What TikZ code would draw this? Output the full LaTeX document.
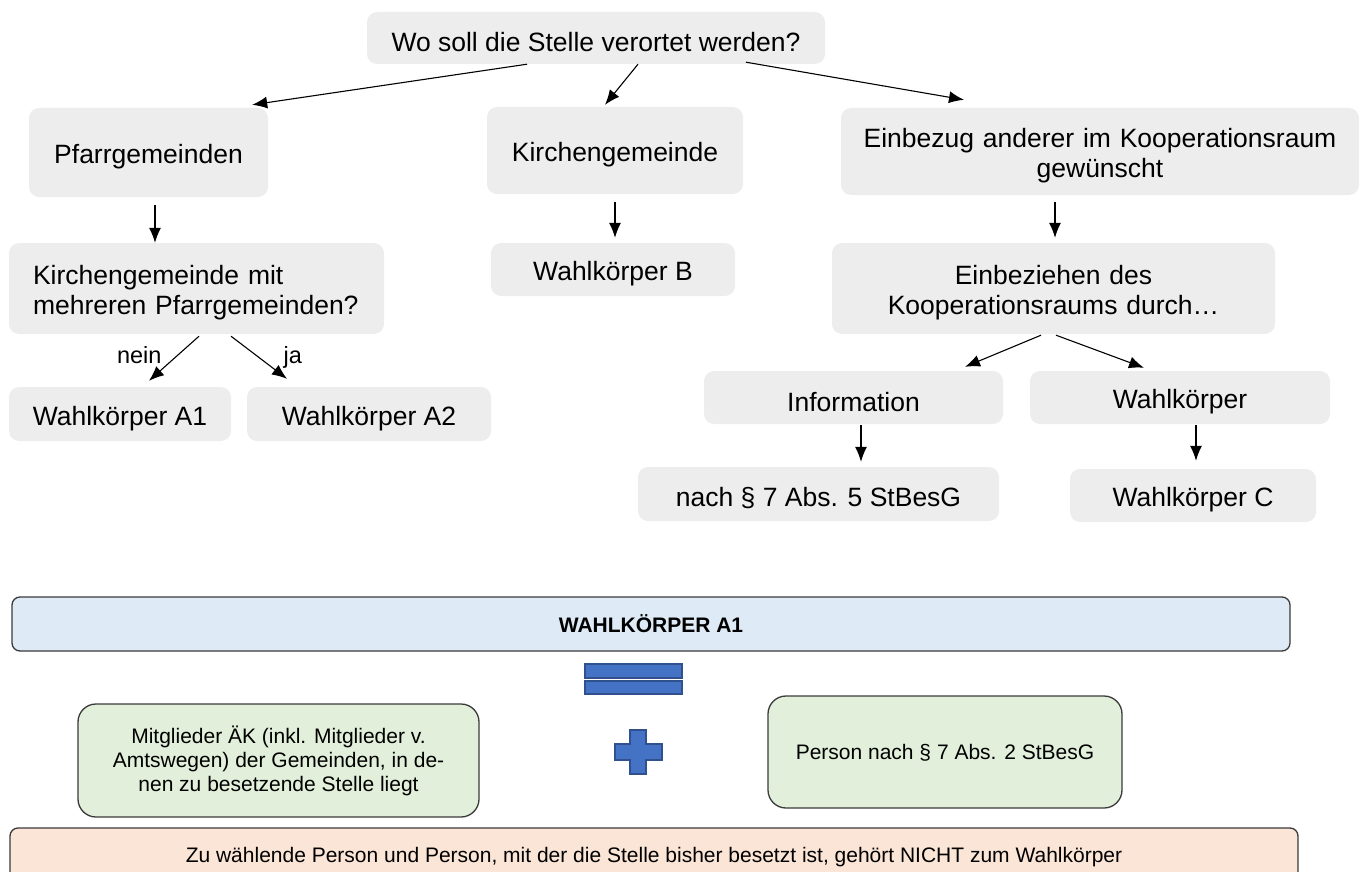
\documentclass[tikz,border=0pt]{standalone}
\usepackage{fontspec}
\setmainfont{Liberation Sans}
\usepackage{tikz}
\usetikzlibrary{arrows.meta}

\definecolor{kastengrau}{HTML}{EDEDED}
\definecolor{titelblau}{HTML}{DEEBF7}
\definecolor{feldgruen}{HTML}{E2EFDA}
\definecolor{hinweisrot}{HTML}{FBE5D6}
\definecolor{zeichenblau}{HTML}{4472C4}
\definecolor{zeichenrand}{HTML}{2F528F}
\definecolor{rahmen}{HTML}{3A3A3A}

\begin{document}
\begin{tikzpicture}[x=1pt, y=-1pt, >={Latex[length=15pt,width=12pt]}]
\tikzstyle{frage} = [fill=kastengrau, rounded corners=10pt, inner sep=0pt, text height=28pt, align=center, font=\fontsize{26.5}{30}\selectfont]
\tikzstyle{feld} = [draw=rahmen, line width=1.3pt, inner sep=0pt, align=center, font=\fontsize{21}{24}\selectfont]
\tikzstyle{pfeil} = [->, line width=1.1pt]
\tikzstyle{zeichen} = [fill=zeichenblau, draw=zeichenrand, line width=1.5pt]
\tikzstyle{marke} = [font=\fontsize{23.5}{28}\selectfont]

\useasboundingbox (0,0) rectangle (1363,872);

    % Entscheidungsbaum oben
    \node [frage, minimum width=458pt, minimum height=52pt] (ort) at (596,38) {Wo soll die Stelle verortet werden?};
    \node [frage, minimum width=239pt, minimum height=89pt] (pfarr) at (148.5,152.5) {Pfarrgemeinden};
    \node [frage, minimum width=256pt, minimum height=87pt] (kirche) at (615,150.5) {Kirchengemeinde};
    \node [frage, minimum width=518pt, minimum height=87pt, text width=500pt] (einbezug) at (1100,151.5) {Einbezug anderer im Kooperationsraum\\gewünscht};
    \node [frage, minimum width=375pt, minimum height=91pt, text width=327pt, align=left] (mehrere) at (196.5,288.5) {Kirchengemeinde mit\\mehreren Pfarrgemeinden?};
    \node [frage, minimum width=244pt, minimum height=53pt] (wkb) at (613,269.5) {Wahlkörper B};
    \node [frage, minimum width=443pt, minimum height=91pt, text width=430pt] (einbeziehen) at (1053.5,288.5) {Einbeziehen des\\Kooperationsraums durch…};
    \node [frage, minimum width=222pt, minimum height=54pt] (wka1) at (120,414) {Wahlkörper A1};
    \node [frage, minimum width=244pt, minimum height=54pt] (wka2) at (369,414) {Wahlkörper A2};
    \node [frage, minimum width=299pt, minimum height=53pt] (info) at (853.5,397.5) {Information};
    \node [frage, minimum width=300pt, minimum height=53pt] (wahl) at (1180,397.5) {Wahlkörper};
    \node [frage, minimum width=361pt, minimum height=54pt] (abs5) at (818.5,494) {nach § 7 Abs. 5 StBesG};
    \node [frage, minimum width=246pt, minimum height=53pt] (wkc) at (1193,495.5) {Wahlkörper C};
    \node [marke, anchor=base east] (nein) at (165,363) {nein};
    \node [marke, anchor=base west] (ja) at (280,363) {ja};

    % Pfeile
    \draw [pfeil] ([xshift=-69pt]ort.south) -- ([xshift=-16pt,yshift=3pt]pfarr.north east);
    \draw [pfeil] ([xshift=42pt]ort.south) -- ([xshift=-10pt,yshift=2pt]kirche.north);
    \draw [pfeil] ([xshift=150pt,yshift=2pt]ort.south) -- ([xshift=-136pt,yshift=8pt]einbezug.north);
    \draw [pfeil] ([xshift=6.5pt,yshift=-8pt]pfarr.south) -- ([xshift=-41.5pt]mehrere.north);
    \draw [pfeil] ([yshift=-8pt]kirche.south) -- ([xshift=2pt,yshift=5pt]wkb.north);
    \draw [pfeil] ([xshift=-45pt,yshift=-7pt]einbezug.south) -- ([xshift=1.5pt,yshift=5pt]einbeziehen.north);
    \draw [pfeil] ([xshift=2.5pt,yshift=-2pt]mehrere.south) -- ([xshift=29pt,yshift=6pt]wka1.north);
    \draw [pfeil] ([xshift=34.5pt,yshift=-2pt]mehrere.south) -- ([xshift=-82pt,yshift=8pt]wka2.north);
    \draw [pfeil] ([xshift=-12.5pt,yshift=-1pt]einbeziehen.south) -- ([xshift=111.5pt,yshift=4pt]info.north);
    \draw [pfeil] ([xshift=2.5pt,yshift=-1pt]einbeziehen.south) -- ([xshift=-36pt,yshift=3pt]wahl.north);
    \draw [pfeil] ([xshift=7.5pt,yshift=-1pt]info.south) -- ([xshift=42.5pt,yshift=5pt]abs5.north);
    \draw [pfeil] ([xshift=16pt,yshift=-1pt]wahl.south) -- ([xshift=3pt,yshift=8pt]wkc.north);

    % Zusammensetzung unten
    \node [feld, fill=titelblau, rounded corners=8pt, minimum width=1278pt, minimum height=54pt, font=\fontsize{21}{24}\selectfont\bfseries] (titel) at (651,624) {WAHLKÖRPER A1};
    \node [feld, fill=feldgruen, rounded corners=18pt, minimum width=401pt, minimum height=113pt] (mitglieder) at (278.5,760.5) {Mitglieder ÄK (inkl. Mitglieder v.\\Amtswegen) der Gemeinden, in de-\\nen zu besetzende Stelle liegt};
    \node [feld, fill=feldgruen, rounded corners=18pt, minimum width=354pt, minimum height=112pt, text height=17pt] (person) at (945,752) {Person nach § 7 Abs. 2 StBesG};
    \node [feld, fill=hinweisrot, rounded corners=8pt, minimum width=1288pt, minimum height=58pt] (hinweis) at (654,857) {Zu wählende Person und Person, mit der die Stelle bisher besetzt ist, gehört NICHT zum Wahlkörper};

    \draw [zeichen] (585,664) rectangle (682,678);
    \draw [zeichen] (585,681) rectangle (682,694);
    \draw [zeichen] (630,730) -- (646,730) -- (646,744) -- (662,744) -- (662,760) -- (646,760) -- (646,774) -- (630,774) -- (630,760) -- (615,760) -- (615,744) -- (630,744) -- cycle;

\end{tikzpicture}
\end{document}
